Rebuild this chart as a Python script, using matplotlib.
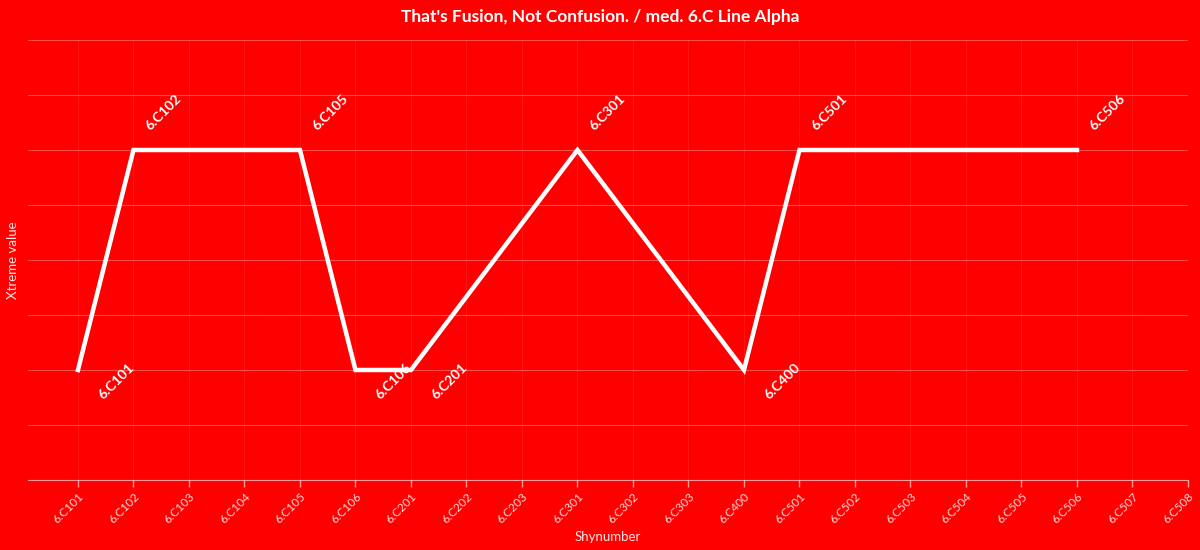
import matplotlib
matplotlib.use("Agg")
import matplotlib.pyplot as plt

plt.rcParams['font.family'] = ['Lato', 'DejaVu Sans']

# x axis categories
categories = ["6.C101", "6.C102", "6.C103", "6.C104", "6.C105", "6.C106",
              "6.C201", "6.C202", "6.C203", "6.C301", "6.C302", "6.C303",
              "6.C400", "6.C501", "6.C502", "6.C503", "6.C504", "6.C505",
              "6.C506", "6.C507", "6.C508"]

# line points
point_names = ["6.C101", "6.C102", "6.C105", "6.C106", "6.C201",
               "6.C301", "6.C400", "6.C501", "6.C506"]
point_values = [2, 6, 6, 2, 2, 6, 2, 6, 6]

bg = "#ff0000"
white = "#ffffff"

fig = plt.figure(figsize=(12, 5.5), dpi=100, facecolor=bg)
ax = fig.add_axes([28 / 1200, 1 - 480 / 550, 1160 / 1200, 440 / 550])
ax.set_facecolor(bg)

xs = [categories.index(n) for n in point_names]
ax.plot(xs, point_values, color=white, lw=3.2, solid_joinstyle="miter", zorder=3)

for x, y, name in zip(xs, point_values, point_names):
    if y > 4:
        off = (30, 38)
    else:
        off = (38, -11)
    ax.annotate(name, (x, y), xytext=off, textcoords="offset pixels",
                rotation=45, ha="center", va="center", rotation_mode="anchor",
                color=white, fontsize=10, fontweight="bold", zorder=4)

ax.set_xlim(-0.9, len(categories) - 1)
ax.set_ylim(0, 8)
ax.set_xticks(range(len(categories)))
ax.set_xticklabels(categories, rotation=45, ha="right", rotation_mode="anchor",
                   fontsize=8.5, color=(1, 1, 1, 0.85))
ax.set_yticks(range(0, 9))
ax.set_yticklabels([])
ax.tick_params(axis="x", length=5, width=1, color=(1, 1, 1, 0.6), pad=3)
ax.tick_params(axis="y", length=0)

ax.grid(axis="y", color=white, alpha=0.3, lw=0.8)
ax.grid(axis="x", color=white, alpha=0.08, lw=0.8)
for s in ["top", "right", "left"]:
    ax.spines[s].set_visible(False)
ax.spines["bottom"].set_color((1, 1, 1, 0.6))

ax.set_xlabel("Shynumber", color=(1, 1, 1, 0.9), fontsize=9.5, labelpad=4)
ax.set_ylabel("Xtreme value", color=(1, 1, 1, 0.9), fontsize=9.5)
ax.yaxis.set_label_coords(-9 / 1160, 0.5)
fig.text(0.5, 1 - 17 / 550, "That's Fusion, Not Confusion. / med. 6.C Line Alpha",
         ha="center", va="center", color=white, fontsize=12.5, fontweight="bold")

fig.savefig("out.png", dpi=100, facecolor=bg)
